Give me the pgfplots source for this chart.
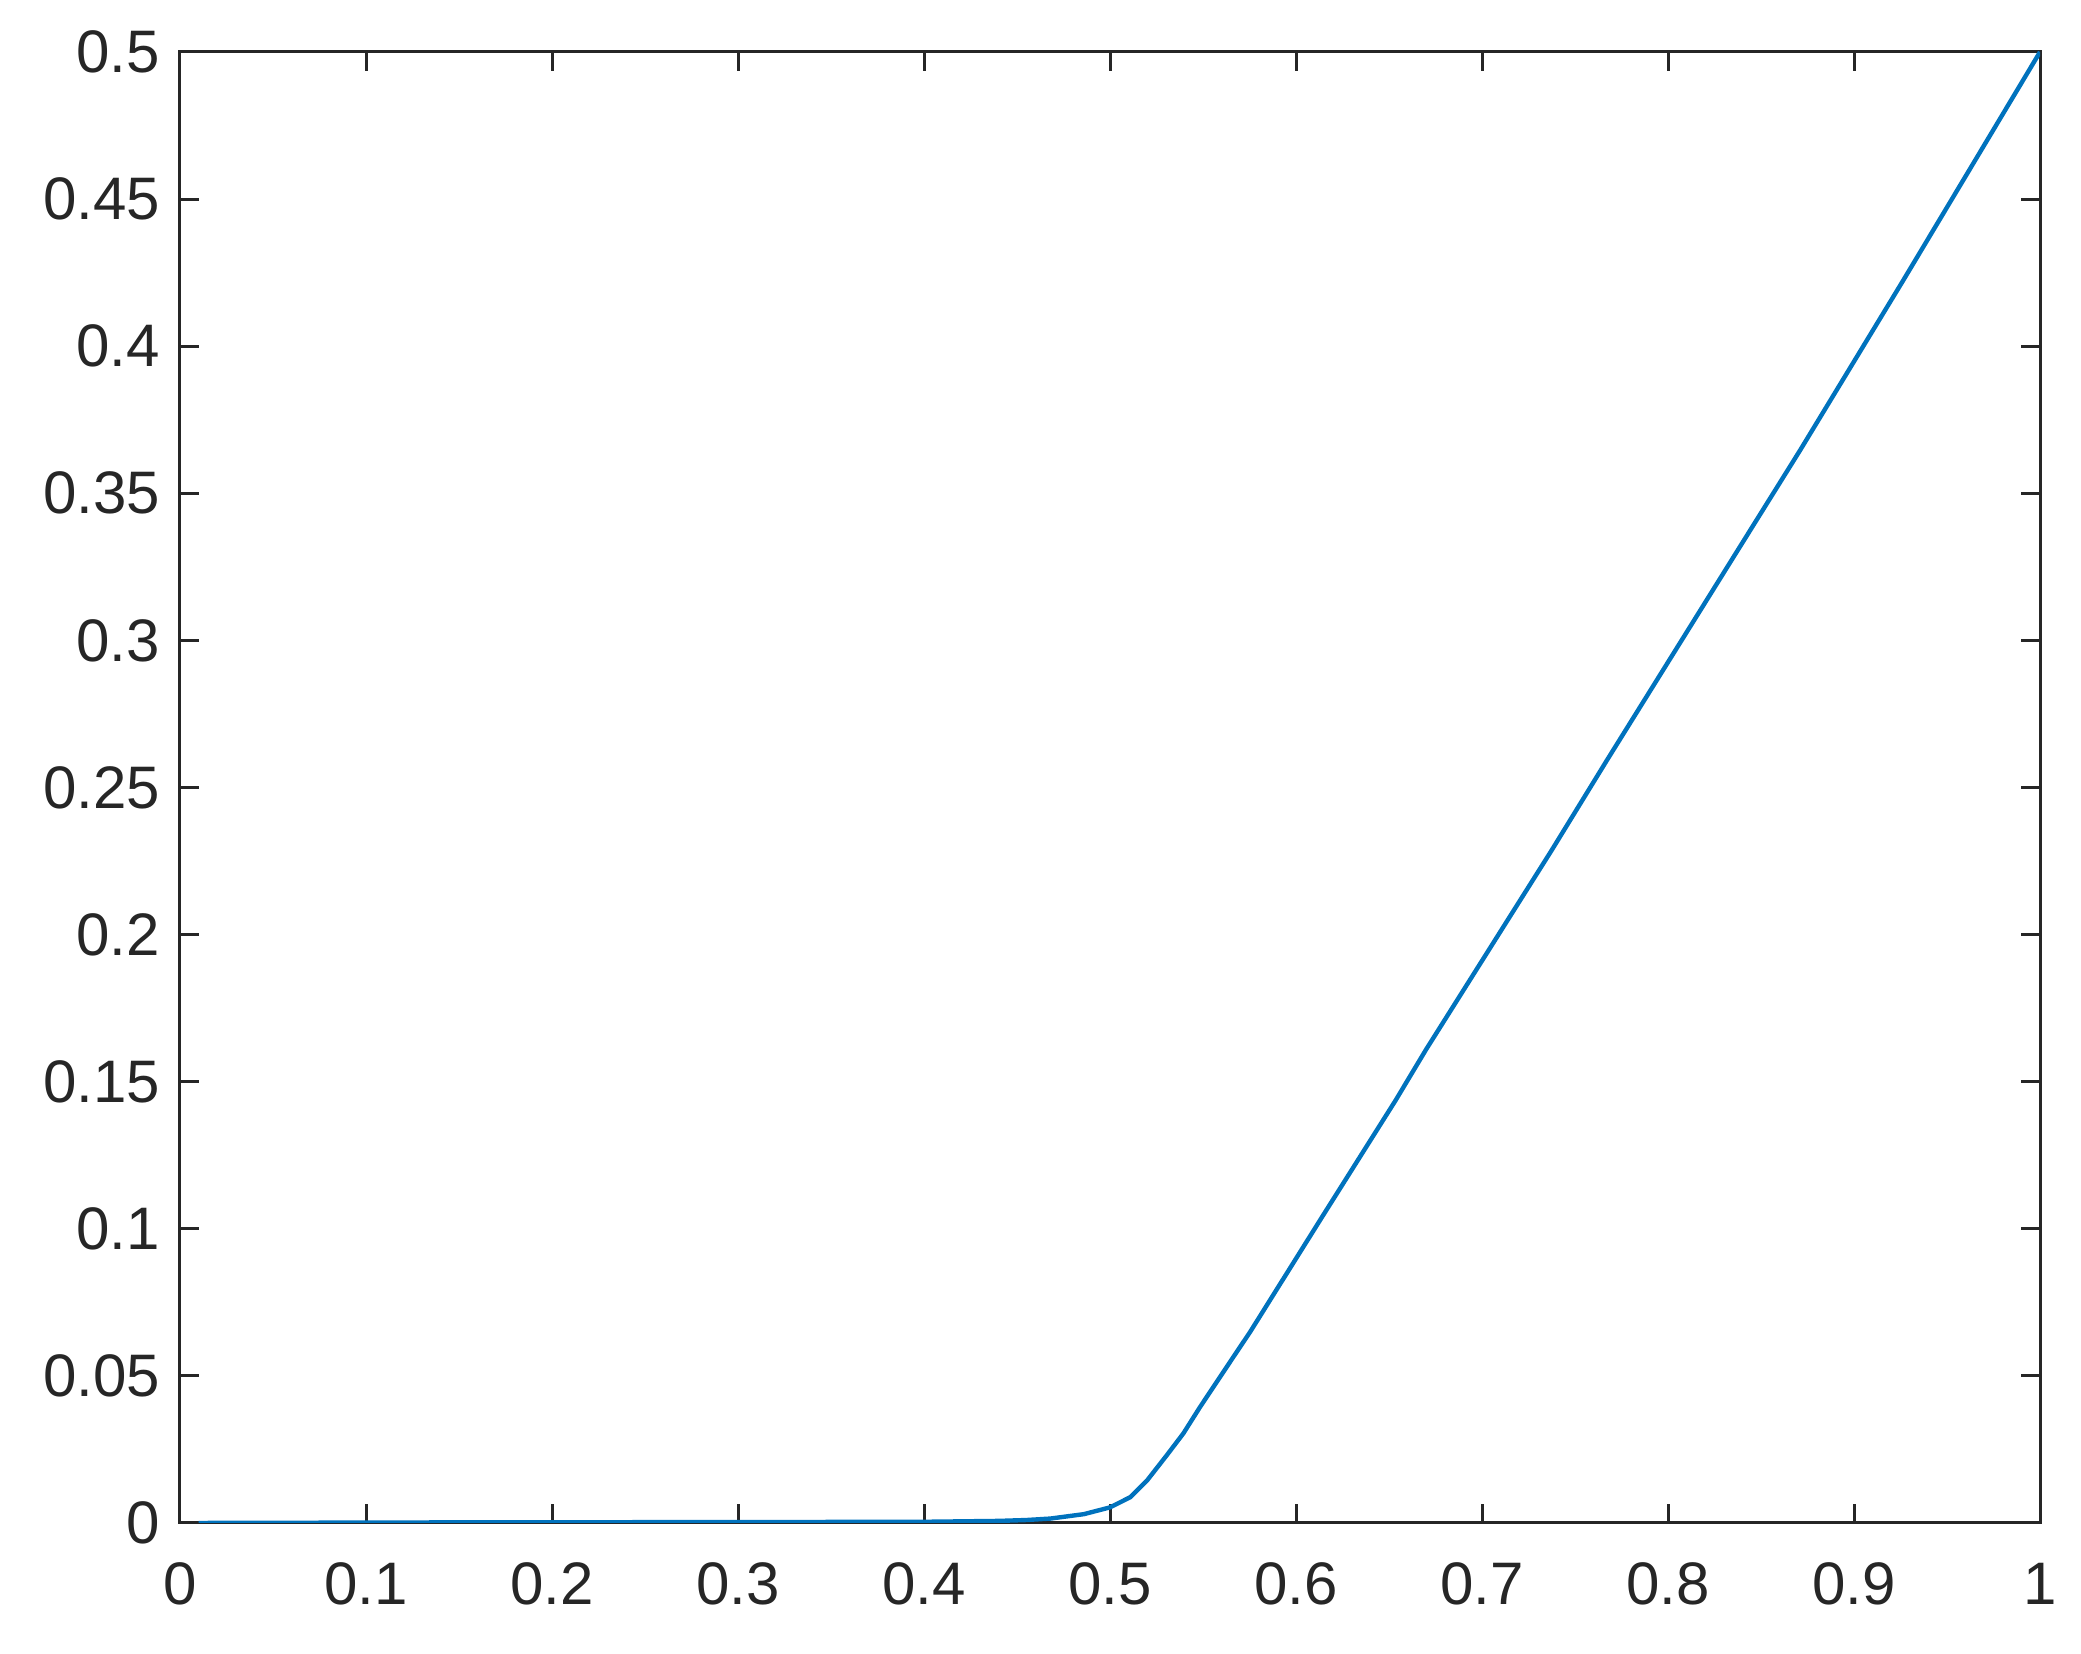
\documentclass[border=0pt]{standalone}
\usepackage{fontspec}
\setmainfont{Liberation Sans}
\usepackage{pgfplots}
\pgfplotsset{compat=1.18}
\definecolor{mblue}{RGB}{0,114,189}
\definecolor{axgray}{RGB}{38,38,38}

\pgfplotstableread{
x y
0.01 0
0.15 0.0002
0.30 0.0003
0.40 0.0004
0.44 0.0007
0.455 0.0010
0.468 0.0015
0.486 0.0030
0.500 0.0053
0.511 0.0088
0.520 0.0145
0.5305 0.0230
0.5394 0.0304
0.5484 0.0394
0.5663 0.0564
0.5753 0.0649
0.6140 0.1040
0.6536 0.1437
0.6699 0.1609
0.7375 0.2287
0.7674 0.2595
0.8342 0.3273
0.871 0.3646
0.9265 0.4224
1.0 0.5
}\curve

\begin{document}
\begin{tikzpicture}
\begin{axis}[
  scale only axis,
  width=465pt, height=367.75pt,
  xmin=0, xmax=1, ymin=0, ymax=0.5,
  xtick={0,0.1,...,1}, ytick={0,0.05,...,0.5},
  xticklabels={0,0.1,0.2,0.3,0.4,0.5,0.6,0.7,0.8,0.9,1},
  yticklabels={0,0.05,0.1,0.15,0.2,0.25,0.3,0.35,0.4,0.45,0.5},
  tick align=inside, major tick length=4.8pt,
  axis line style={axgray, line width=0.75pt},
  every tick/.style={axgray, line width=0.75pt},
  tick label style={font=\fontsize{15}{17}\selectfont, text=axgray},
  xticklabel style={yshift=-6.5pt},
  yticklabel style={xshift=-1.5pt},
]
  \addplot[mblue, line width=1.1pt] table {\curve};
\end{axis}
\path (current axis.south west) ++(-45pt,-32.75pt) coordinate (bl);
\path (current axis.north east) ++(10.25pt,13pt) coordinate (tr);
\path[use as bounding box] (bl) rectangle (tr);
\end{tikzpicture}
\end{document}
